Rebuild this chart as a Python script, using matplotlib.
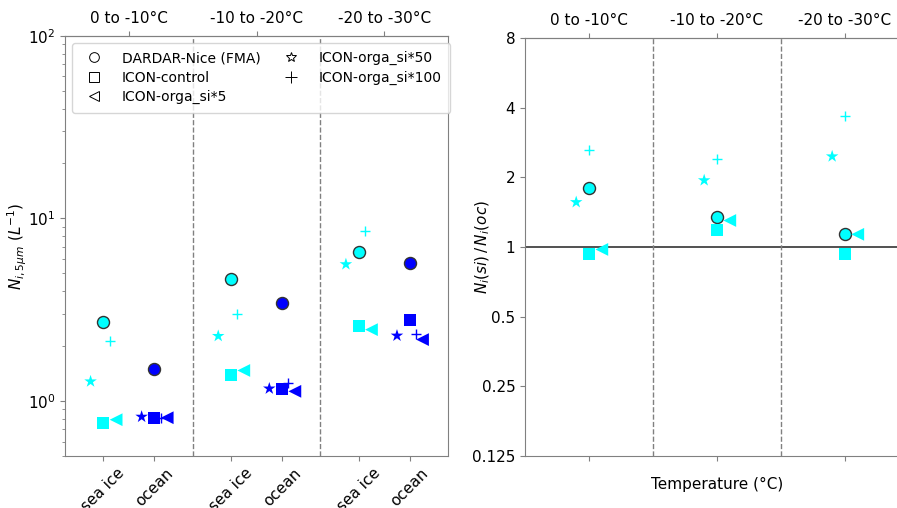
import matplotlib
matplotlib.use("Agg")
import matplotlib.pyplot as plt
from matplotlib.lines import Line2D
from matplotlib.ticker import FixedLocator, NullFormatter

plt.rcParams['font.size'] = 11

temp_bins = ["0 to -10°C", "-10 to -20°C", "-20 to -30°C"]
surfaces = ["sea ice", "ocean"]

# Ni,5um (L-1) per temperature bin, sea ice / ocean
dardar_si = [2.70, 4.64, 6.52]
dardar_oc = [1.50, 3.45, 5.71]
control_si = [0.758, 1.39, 2.57]
control_oc = [0.81, 1.17, 2.77]
orga5_si = [0.79, 1.47, 2.46]
orga5_oc = [0.81, 1.13, 2.17]
orga50_si = [1.28, 2.27, 5.61]
orga50_oc = [0.82, 1.17, 2.28]
orga100_si = [2.13, 2.99, 8.57]
orga100_oc = [0.81, 1.25, 2.32]

c_si = "#00ffff"
c_oc = "#0000ff"
grey = "#808080"

# label, sea ice, ocean, marker, size, x-offset left panel, x-offset right panel
series = [
    ("DARDAR-Nice (FMA)", dardar_si, dardar_oc, "o", 75, 0.0, 0.0),
    ("ICON-control", control_si, control_oc, "s", 75, 0.0, 0.0),
    ("ICON-orga_si*5", orga5_si, orga5_oc, "<", 85, 0.25, 0.1),
    ("ICON-orga_si*50", orga50_si, orga50_oc, "*", 90, -0.25, -0.1),
    ("ICON-orga_si*100", orga100_si, orga100_oc, "+", 60, 0.125, 0.0),
]

fig = plt.figure(figsize=(8.97, 5.08), dpi=100)
ax1 = fig.add_axes([0.0725, 0.1024, 0.427, 0.827])
ax2 = fig.add_axes([0.5853, 0.1024, 0.428, 0.823])


def style_axes(ax):
    for s in ax.spines.values():
        s.set_color(grey)
    ax.tick_params(which="both", color=grey)


def draw(ax, xs, ys, m, size, color):
    if m == "+":
        ax.scatter(xs, ys, marker=m, s=size, c=color, linewidths=1.0, zorder=3)
    else:
        ec = "#333333" if m == "o" else "none"
        lw = 1.0 if m == "o" else 0
        ax.scatter(xs, ys, marker=m, s=size, c=color, edgecolors=ec, linewidths=lw, zorder=3)


# left panel
x_si = [0, 2.5, 5]
x_oc = [1, 3.5, 6]
for label, si, oc, m, size, off, off2 in series:
    draw(ax1, [x + off for x in x_si], si, m, size, c_si)
    draw(ax1, [x + off for x in x_oc], oc, m, size, c_oc)

ax1.set_yscale("log")
ax1.set_ylim(0.5, 100)
ax1.set_xlim(-0.75, 6.75)
for xv in [1.75, 4.25]:
    ax1.axvline(xv, color=grey, ls="--", lw=1)
ax1.set_xticks(x_si + x_oc)
ax1.set_xticklabels(surfaces[:1] * 3 + surfaces[1:] * 3, rotation=45)
ax1.set_ylabel(r"$N_{i,5\mu m}$ $(L^{-1})$")
ax1.yaxis.set_label_coords(-0.095, 0.5)
top1 = ax1.secondary_xaxis("top")
top1.set_xticks([0.5, 3, 5.5])
top1.set_xticklabels(temp_bins)
top1.spines["top"].set_color(grey)
top1.tick_params(color=grey)
style_axes(ax1)

handles = [
    Line2D([], [], ls="none", marker="o", mfc="w", mec="k", ms=7, mew=0.7),
    Line2D([], [], ls="none", marker="s", mfc="w", mec="k", ms=7, mew=0.7),
    Line2D([], [], ls="none", marker="<", mfc="w", mec="k", ms=7, mew=0.7),
    Line2D([], [], ls="none", marker="*", mfc="w", mec="k", ms=7, mew=0.7),
    Line2D([], [], ls="none", marker="+", mfc="w", mec="k", ms=9, mew=0.7),
]
ax1.legend(handles, [s[0] for s in series], loc="upper left", ncol=2,
           fontsize=10, handletextpad=1.0, columnspacing=1.2, labelspacing=0.4,
           borderpad=0.6)

# right panel: ratio sea ice / ocean
x_t = [0, 1, 2]
for label, si, oc, m, size, off, off2 in series:
    ratio = [a / b for a, b in zip(si, oc)]
    draw(ax2, [x + off2 for x in x_t], ratio, m, size, c_si)

ax2.set_yscale("log", base=2)
ax2.set_ylim(0.125, 8)
ax2.set_xlim(-0.5, 2.5)
yt = [0.125, 0.25, 0.5, 1, 2, 4, 8]
ax2.yaxis.set_major_locator(FixedLocator(yt))
ax2.set_yticklabels(["0.125", "0.25", "0.5", "1", "2", "4", "8"])
ax2.yaxis.set_minor_formatter(NullFormatter())
ax2.axhline(1, color="#333333", lw=1.2, zorder=2)
for xv in [0.5, 1.5]:
    ax2.axvline(xv, color=grey, ls="--", lw=1)
ax2.set_xticks(x_t)
ax2.set_xticklabels([])
ax2.set_xlabel("Temperature (°C)", labelpad=8)
ax2.set_ylabel(r"$N_i(si)\,/\,N_i(oc)$")
ax2.yaxis.set_label_coords(-0.086, 0.5)
top2 = ax2.secondary_xaxis("top")
top2.set_xticks(x_t)
top2.set_xticklabels(temp_bins)
top2.spines["top"].set_color(grey)
top2.tick_params(color=grey)
style_axes(ax2)

fig.savefig("out.png", dpi=100)
